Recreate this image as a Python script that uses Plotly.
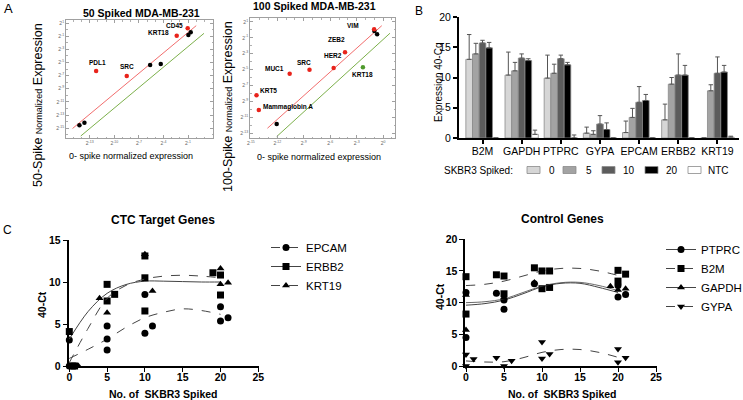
import plotly.graph_objects as go

W, H = 743, 400
def fx(px): return px / W
def fy(py): return 1 - py / H

FONT = "Liberation Sans, Arial, sans-serif"

# ---------------- Panel A data (log2 exponents) ----------------
a50_red_names = ["CD45", "KRT18", "PDL1", "SRC"]
a50_red_x = [-1.04, -2.38, -12.22, -8.48]
a50_red_y = [0.19, -0.94, -6.31, -7.08]
a50_black_x = [-0.96, -0.67, -5.63, -4.33, -14.26, -13.65]
a50_black_y = [-0.83, -0.42, -5.40, -5.25, -14.55, -14.19]
a50_redline_x = [-15.1, 0.0]
a50_redline_y = [-15.05, 0.6]
a50_greenline_x = [-14.1, 0.95]
a50_greenline_y = [-16.2, -0.57]
a50_xticks = [-16, -13, -10, -7, -4, -1]
a50_yticks = [1, -1, -3, -5, -7, -9, -11, -13, -15]

a100_red_names = ["VIM", "ZEB2", "HER2", "SRC", "MUC1", "KRT5", "Mammaglobin A"]
a100_red_x = [-1.02, -4.32, -5.61, -8.35, -10.60, -14.36, -14.10]
a100_red_y = [0.08, -2.82, -4.80, -5.01, -5.52, -8.24, -10.10]
a100_green_names = ["KRT18"]
a100_green_x = [-2.29]
a100_green_y = [-4.71]
a100_black_x = [-0.99, -0.68, -12.07]
a100_black_y = [-0.13, -0.55, -11.86]
a100_redline_x = [-13.12, -0.15]
a100_redline_y = [-12.40, 0.53]
a100_greenline_x = [-12.07, 0.78]
a100_greenline_y = [-13.45, -0.42]
a100_xticks = [-15, -12, -9, -6, -3, 0]
a100_yticks = [1, -1, -3, -5, -7, -9, -11, -13]

# ---------------- Panel B data ----------------
b_genes = ["B2M", "GAPDH", "PTPRC", "GYPA", "EPCAM", "ERBB2", "KRT19"]
b_groups = ["0", "5", "10", "20", "NTC"]
b_val_0 = [13.0, 10.4, 9.9, 0.8, 0.9, 3.0, 0.0]
b_val_5 = [13.9, 11.1, 10.7, 0.6, 3.4, 8.9, 7.8]
b_val_10 = [15.7, 13.2, 13.1, 2.3, 5.9, 10.4, 10.7]
b_val_20 = [14.9, 12.8, 12.1, 1.4, 6.2, 10.4, 10.9]
b_val_ntc = [0.0, 0.6, 0.0, 0.0, 0.0, 0.0, 0.15]
b_err_0 = [4.1, 3.8, 3.8, 1.0, 1.9, 2.6, 0.0]
b_err_5 = [1.75, 1.4, 1.5, 0.6, 1.5, 1.1, 1.0]
b_err_10 = [0.45, 0.7, 0.6, 1.4, 2.6, 3.5, 2.7]
b_err_20 = [0.9, 0.3, 0.4, 1.1, 1.0, 1.6, 1.1]
b_err_ntc = [0.0, 0.7, 0.5, 0.0, 0.0, 0.0, 0.15]

# ---------------- Panel C data ----------------
ctc_epcam_x = [0, 0, 5, 5, 5, 10, 10, 11, 20, 20, 21]
ctc_epcam_y = [3.1, 0, 4.76, 3.2, 1.9, 8.5, 3.9, 4.76, 7.06, 5.36, 5.75]
ctc_erbb2_x = [0, 0.4, 0.7, 5, 5, 6, 10, 10, 10, 19, 20, 20]
ctc_erbb2_y = [4.1, 0, 0, 9.72, 7.74, 8.53, 13.1, 10.5, 6.55, 11.1, 10.83, 8.45]
ctc_krt19_x = [0.9, 1.2, 4, 5, 10, 11, 20, 20, 21]
ctc_krt19_y = [0, 0, 8.06, 6.35, 13.3, 8.93, 11.6, 9.72, 9.92]
ctc_fit_x = [0, 2.5, 5, 7.5, 10, 12.5, 15, 17.5, 20]
ctc_epcam_fit = [0.9, 2.0, 3.2, 4.6, 5.75, 6.4, 6.8, 6.6, 6.15]
ctc_erbb2_fit = [3.2, 6.5, 8.65, 9.7, 10.1, 10.1, 10.05, 10.0, 10.0]
ctc_krt19_fit = [0.4, 4.5, 8.05, 9.6, 10.35, 10.7, 10.8, 10.7, 10.5]

ctl_ptprc_x = [0, 0, 4, 5, 5, 9, 20, 20, 21]
ctl_ptprc_y = [11.6, 4.5, 11.5, 8.95, 10.4, 13.0, 12.7, 10.9, 11.3]
ctl_b2m_x = [0, 0, 4, 5, 5, 9, 10, 10, 11, 11, 20, 20, 21]
ctl_b2m_y = [14.1, 8.2, 14.4, 14.2, 11.4, 15.5, 15.0, 12.2, 15.0, 12.4, 15.1, 13.4, 14.5]
ctl_gapdh_x = [0, 0, 5, 9, 19, 20, 21]
ctl_gapdh_y = [11.2, 5.7, 10.8, 13.2, 12.6, 12.0, 12.2]
ctl_gypa_x = [0, 0, 1, 4, 5, 6, 10, 10, 11, 20, 20, 21]
ctl_gypa_y = [1.8, 0, 1.1, 1.3, 0, 0.84, 3.8, 1.2, 1.9, 2.7, 0.6, 1.3]
ctl_fit_x = [0, 2.5, 5, 7.5, 10, 12.5, 15, 17.5, 20]
ctl_b2m_fit = [12.7, 12.9, 13.4, 14.2, 15.0, 15.4, 15.4, 15.0, 14.3]
ctl_ptprc_fit = [9.6, 9.85, 10.4, 11.4, 12.5, 13.05, 13.05, 12.4, 11.6]
ctl_gapdh_fit = [10.0, 10.15, 10.6, 11.6, 12.6, 13.15, 13.2, 12.7, 11.9]
ctl_gypa_fit = [0.8, 0.63, 0.68, 1.3, 2.15, 2.6, 2.6, 2.15, 1.37]

c_xticks = [0, 5, 10, 15, 20, 25]

# label offsets (pixels, right / up) for the gene names in panel A
a50_label_shift = [(-13, 3), (-18, 3), (1, 9), (0, 10)]
a100_label_shift = [(-21, 4), (-9, 13), (-1, 12), (-6, 7), (-15, 5), (12, 5), (29, 3)]
a100_green_shift = [(0, -7)]

fig = go.Figure()
annotations = []

# ---------------- Panel A traces ----------------
RED = "#e8231b"
def sup(v):
    return "2<sup>%d</sup>" % v

def a_panel(xa, ya, redl_x, redl_y, grl_x, grl_y, red_x, red_y, red_names, red_shift,
            blk_x, blk_y, grn=None):
    fig.add_trace(go.Scatter(x=redl_x, y=redl_y, mode="lines", xaxis=xa, yaxis=ya,
                             line=dict(color="#f26d6d", width=1), showlegend=False))
    fig.add_trace(go.Scatter(x=grl_x, y=grl_y, mode="lines", xaxis=xa, yaxis=ya,
                             line=dict(color="#7cb04a", width=1), showlegend=False))
    fig.add_trace(go.Scatter(x=blk_x, y=blk_y, mode="markers", xaxis=xa, yaxis=ya,
                             marker=dict(color="black", size=4.5), showlegend=False))
    fig.add_trace(go.Scatter(x=red_x, y=red_y, mode="markers", xaxis=xa, yaxis=ya,
                             marker=dict(color=RED, size=4.5), showlegend=False, cliponaxis=False))
    pts = list(zip(red_x, red_y, red_names, red_shift))
    if grn:
        gx, gy, gn, gs = grn
        fig.add_trace(go.Scatter(x=gx, y=gy, mode="markers", xaxis=xa, yaxis=ya,
                                 marker=dict(color="#4f9a2c", size=4.5), showlegend=False))
        pts += list(zip(gx, gy, gn, gs))
    for px, py, nm, (sx, sy) in pts:
        annotations.append(dict(x=px, y=py, xref=xa, yref=ya, text="<b>%s</b>" % nm,
                                showarrow=False, xshift=sx, yshift=sy,
                                font=dict(size=6.5, family=FONT, color="black")))

a_panel("x", "y", a50_redline_x, a50_redline_y, a50_greenline_x, a50_greenline_y,
        a50_red_x, a50_red_y, a50_red_names, a50_label_shift,
        a50_black_x, a50_black_y)
a_panel("x2", "y2", a100_redline_x, a100_redline_y, a100_greenline_x, a100_greenline_y,
        a100_red_x, a100_red_y, a100_red_names, a100_label_shift,
        a100_black_x, a100_black_y,
        grn=(a100_green_x, a100_green_y, a100_green_names, a100_green_shift))

# ---------------- Panel B traces ----------------
b_vals = [b_val_0, b_val_5, b_val_10, b_val_20, b_val_ntc]
b_errs = [b_err_0, b_err_5, b_err_10, b_err_20, b_err_ntc]
b_colors = ["#d6d6d6", "#a3a3a3", "#5c5c5c", "#000000", "#ffffff"]
for g, v, e, c in zip(b_groups, b_vals, b_errs, b_colors):
    fig.add_trace(go.Bar(
        x=b_genes, y=v, name=g, xaxis="x3", yaxis="y3", showlegend=False,
        marker=dict(color=c, line=dict(color="#8a8a8a", width=0.8)),
        error_y=dict(type="data", symmetric=False, array=e, arrayminus=[0] * len(e),
                     color="#555555", thickness=1, width=2.2),
    ))

# ---------------- Panel C traces ----------------
def c_series(xa, ya, leg, name, px, py, fit_x, fit_y, symbol, dash, lw=1.0):
    fig.add_trace(go.Scatter(x=fit_x, y=fit_y, mode="lines", xaxis=xa, yaxis=ya,
                             line=dict(color="#444444", width=lw, dash=dash, shape="spline"),
                             showlegend=False, cliponaxis=False))
    fig.add_trace(go.Scatter(x=px, y=py, mode="markers", xaxis=xa, yaxis=ya, name=name,
                             showlegend=False, cliponaxis=False,
                             marker=dict(color="black", size=7, symbol=symbol)))
    # legend entry (no data of its own)
    fig.add_trace(go.Scatter(x=[None], y=[None], mode="lines+markers", xaxis=xa, yaxis=ya,
                             name=name, legend=leg,
                             marker=dict(color="black", size=7, symbol=symbol),
                             line=dict(color="#444444", width=1, dash=dash)))

c_series("x4", "y4", "legend2", "EPCAM", ctc_epcam_x, ctc_epcam_y, ctc_fit_x, ctc_epcam_fit, "circle", "dash")
c_series("x4", "y4", "legend2", "ERBB2", ctc_erbb2_x, ctc_erbb2_y, ctc_fit_x, ctc_erbb2_fit, "square", "solid")
c_series("x4", "y4", "legend2", "KRT19", ctc_krt19_x, ctc_krt19_y, ctc_fit_x, ctc_krt19_fit, "triangle-up", "dash")

c_series("x5", "y5", "legend3", "PTPRC", ctl_ptprc_x, ctl_ptprc_y, ctl_fit_x, ctl_ptprc_fit, "circle", "solid")
c_series("x5", "y5", "legend3", "B2M", ctl_b2m_x, ctl_b2m_y, ctl_fit_x, ctl_b2m_fit, "square", "dash")
c_series("x5", "y5", "legend3", "GAPDH", ctl_gapdh_x, ctl_gapdh_y, ctl_fit_x, ctl_gapdh_fit, "triangle-up", "solid", 0.8)
c_series("x5", "y5", "legend3", "GYPA", ctl_gypa_x, ctl_gypa_y, ctl_fit_x, ctl_gypa_fit, "triangle-down", "dash")

# ---------------- Layout ----------------
a_axis_common = dict(showline=True, linecolor="#a0a0a0", linewidth=0.8, mirror="ticks",
                     ticks="inside", ticklen=3, tickcolor="#a0a0a0", tickwidth=0.7,
                     showgrid=False, zeroline=False,
                     tickfont=dict(size=5, color="#666666", family=FONT),
                     minor=dict(ticks="inside", ticklen=1.6, dtick=1, tickcolor="#b0b0b0"))

layout = dict(
    width=W, height=H, margin=dict(l=0, r=0, t=0, b=0, autoexpand=False),
    paper_bgcolor="white", plot_bgcolor="white",
    font=dict(family=FONT, color="black"),
    barmode="group", bargap=0.15, bargroupgap=0,
    xaxis=dict(domain=[fx(66), fx(213)], range=[-15.9, 2.05], anchor="y",
               tickvals=a50_xticks, ticktext=[sup(v) for v in a50_xticks], **a_axis_common),
    yaxis=dict(domain=[fy(138), fy(20)], range=[-16.5, 1.46], anchor="x",
               tickvals=a50_yticks, ticktext=[sup(v) for v in a50_yticks], **a_axis_common),
    xaxis2=dict(domain=[fx(250), fx(395)], range=[-15.1, 1.35], anchor="y2",
                tickvals=a100_xticks, ticktext=[sup(v) for v in a100_xticks], **a_axis_common),
    yaxis2=dict(domain=[fy(138), fy(18)], range=[-13.63, 1.5], anchor="x2",
                tickvals=a100_yticks, ticktext=[sup(v) for v in a100_yticks], **a_axis_common),
    xaxis3=dict(domain=[fx(459), fx(739)], range=[-0.6, 6.55], anchor="y3", type="category",
                showline=True, linecolor="black", linewidth=2, ticks="outside", ticklen=4,
                tickwidth=1.5, tickcolor="black", showgrid=False, ticklabelstandoff=-2,
                tickfont=dict(size=10.5, family=FONT, color="black")),
    yaxis3=dict(domain=[fy(138), fy(17)], range=[0, 20], anchor="x3",
                showline=True, linecolor="black", linewidth=2, ticks="outside", ticklen=4,
                tickwidth=1.5, tickcolor="black", showgrid=False, zeroline=False,
                tickvals=[0, 5, 10, 15, 20], tickfont=dict(size=10.5, family=FONT, color="black")),
)

c_axis_common = dict(showline=True, linecolor="black", linewidth=1.6, ticks="outside",
                     ticklen=4, tickwidth=1.4, tickcolor="black", showgrid=False, zeroline=False,
                     tickfont=dict(size=10.5, family=FONT, color="black", weight="bold"))
layout["xaxis4"] = dict(domain=[fx(68.54), fx(259.06)], range=[-0.1, 25.1], anchor="y4",
                        tickvals=c_xticks, ticklabelstandoff=-3, **c_axis_common)
layout["yaxis4"] = dict(domain=[fy(366), fy(240)], range=[0, 15], anchor="x4",
                        tickvals=[0, 5, 10, 15], **c_axis_common)
layout["xaxis5"] = dict(domain=[fx(465.24), fx(656.76)], range=[-0.1, 25.1], anchor="y5",
                        tickvals=c_xticks, ticklabelstandoff=-3, **c_axis_common)
layout["yaxis5"] = dict(domain=[fy(366), fy(239.3)], range=[0, 20], anchor="x5",
                        tickvals=[0, 5, 10, 15, 20], **c_axis_common)

layout["legend2"] = dict(x=fx(266), y=fy(233), xanchor="left", yanchor="top",
                         font=dict(size=11.5, family=FONT), bgcolor="rgba(0,0,0,0)",
                         tracegroupgap=0)
layout["legend3"] = dict(x=fx(661), y=fy(235), xanchor="left", yanchor="top",
                         font=dict(size=11.5, family=FONT), bgcolor="rgba(0,0,0,0)",
                         tracegroupgap=0)

def ann(text, x, y, size, angle=0, bold=False, color="black", xanchor="center"):
    return dict(text=("<b>%s</b>" % text) if bold else text, x=fx(x), y=fy(y),
                xref="paper", yref="paper", showarrow=False, textangle=angle,
                font=dict(size=size, family=FONT, color=color), xanchor=xanchor, yanchor="middle")

annotations += [
    ann("A", 8, 9, 13),
    ann("B", 419, 11, 12),
    ann("C", 7, 230, 12),
    ann("50 Spiked MDA-MB-231", 141, 13, 10.5, bold=True),
    ann("100 Spiked MDA-MB-231", 314, 6, 10.5, bold=True),
    ann("0- spike normalized expression", 131, 156, 9),
    ann("0- spike normalized expression", 319, 157, 9),
    ann("50-Spike <span style='font-size:9px'>Normalized</span> Expression", 38, 105, 12.5, angle=-90),
    ann("100-Spike <span style='font-size:9px'>Normalized</span> Expression", 228, 107, 12.5, angle=-90),
    ann("Expression 40-Cq", 438, 83, 10, angle=-90),
    ann("CTC Target Genes", 163, 220, 12, bold=True),
    ann("Control Genes", 562, 219, 12, bold=True),
    ann("40-Ct", 42, 305, 10.5, angle=-90, bold=True),
    ann("40-Ct", 440, 297, 10.5, angle=-90, bold=True),
    ann("No. of  SKBR3 Spiked", 163, 394, 10.5, bold=True),
    ann("No. of  SKBR3 Spiked", 562, 394, 10.5, bold=True),
    ann("SKBR3 Spiked:", 442, 170, 10, xanchor="left"),
]

# Panel B legend (drawn as a key row)
key_box_left = [527, 563, 602, 645, 688]
key_text_left = [547, 584, 621, 664, 706]
shapes = []
for g, c, bx, tx in zip(b_groups, b_colors, key_box_left, key_text_left):
    shapes.append(dict(type="rect", xref="paper", yref="paper",
                       x0=fx(bx), x1=fx(bx + 13), y0=fy(173.5), y1=fy(166.5),
                       fillcolor=c, line=dict(color="#8a8a8a", width=0.8)))
    annotations.append(ann(g, tx, 170, 10, xanchor="left"))

layout["annotations"] = annotations
layout["shapes"] = shapes

fig.update_layout(**layout)
fig.write_html("out.html", post_script="document.body.style.margin='0px';",
               config={"displayModeBar": False})
